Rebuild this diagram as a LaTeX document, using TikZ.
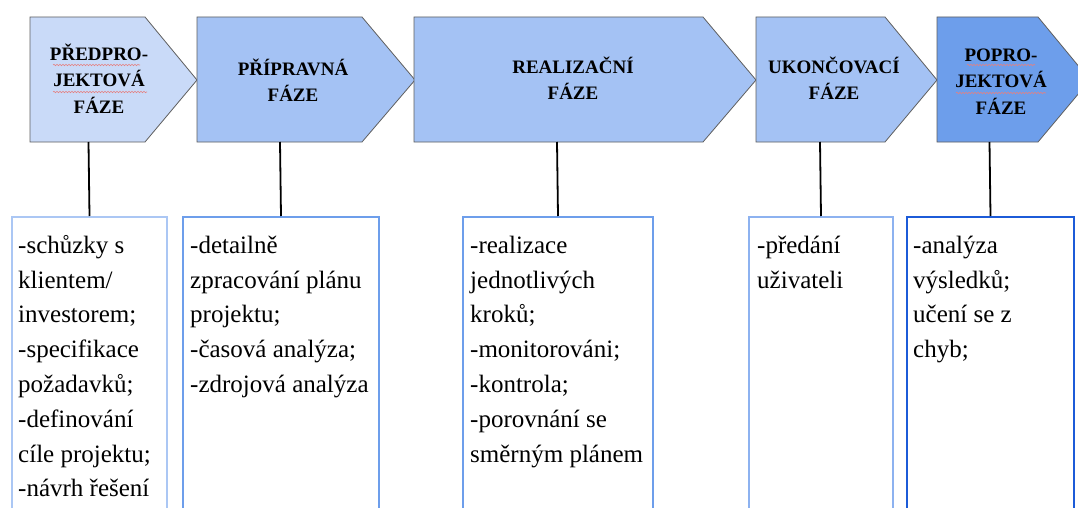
\documentclass[tikz,border=0pt]{standalone}
\usepackage{fontspec}
\setmainfont{Liberation Serif}
\usetikzlibrary{decorations.pathmorphing}

\definecolor{phaseLight}{HTML}{C9DAF8}
\definecolor{phaseMid}{HTML}{A4C2F4}
\definecolor{phaseDark}{HTML}{6D9EEB}
\definecolor{edgeGrey}{HTML}{5F5F5F}
\definecolor{frameA}{HTML}{ABC7F4}
\definecolor{frameB}{HTML}{6D9EEB}
\definecolor{frameC}{HTML}{8DB2F0}
\definecolor{frameD}{HTML}{1C5BD8}
\definecolor{squiggle}{HTML}{E58080}

\begin{document}
\begin{tikzpicture}[x=1pt, y=-1pt,
  phase/.style={draw=edgeGrey, line width=0.8pt, line join=miter},
  head/.style={font=\bfseries\fontsize{19}{26.5}\selectfont, align=center, inner sep=0pt, anchor=north},
  bodybox/.style={draw, line width=2pt, fill=white, anchor=north west, inner sep=0pt},
  bodytext/.style={font=\fontsize{25}{34.8}\selectfont, align=left, inner sep=0pt, anchor=north west},
  link/.style={draw=black, line width=1.8pt},
  spell/.style={draw=squiggle, line width=0.6pt, decorate,
    decoration={snake, segment length=3pt, amplitude=0.7pt}}]

\useasboundingbox (0,0) rectangle (1078,508);
\clip (0,0) rectangle (1078,508);
\fill[white] (0,0) rectangle (1078,508);

% phase arrows
\path[phase, fill=phaseLight] (30,17) -- (145,17) -- (197,80) -- (145,142) -- (30,142) -- cycle;
\path[phase, fill=phaseMid] (197,17) -- (362,17) -- (415,80) -- (362,142) -- (197,142) -- cycle;
\path[phase, fill=phaseMid] (414,17) -- (703,17) -- (756,80) -- (703,142) -- (414,142) -- cycle;
\path[phase, fill=phaseMid] (756,17) -- (885,17) -- (937,80) -- (885,142) -- (756,142) -- cycle;
\path[phase, fill=phaseDark] (937,17) -- (1038,17) -- (1090,80) -- (1038,142) -- (937,142) -- cycle;

% phase titles
\node[head] (h1) at (99,42) {\rule{0pt}{18pt}PŘEDPRO-\\JEKTOVÁ\\FÁZE};
\node[head] (h2) at (293,57) {\rule{0pt}{18pt}PŘÍPRAVNÁ\\FÁZE};
\node[head] (h3) at (573,55) {\rule{0pt}{18pt}REALIZAČNÍ\\FÁZE};
\node[head] (h4) at (834,55) {\rule{0pt}{18pt}UKONČOVACÍ\\FÁZE};
\node[head] (h5) at (1001,43) {\rule{0pt}{18pt}POPRO-\\JEKTOVÁ\\FÁZE};

% spelling squiggles
\draw[spell] (53,65) -- (140,65);
\draw[spell] (53,92) -- (147,92);
\draw[spell] (967,65) -- (1035,65);
\draw[spell] (956,93) -- (1046,93);

% lower edges of the arrows, where the connectors start
\coordinate (a1) at (88.5,142);
\coordinate (a2) at (280,142);
\coordinate (a3) at (557,142);
\coordinate (a4) at (820,142);
\coordinate (a5) at (989.5,142);

% activity boxes
\node[bodybox, draw=frameA, minimum width=155pt, minimum height=320pt] (b1) at (11,216) {};
\node[bodybox, draw=frameB, minimum width=196pt, minimum height=320pt] (b2) at (182,216) {};
\node[bodybox, draw=frameB, minimum width=190pt, minimum height=320pt] (b3) at (462,216) {};
\node[bodybox, draw=frameC, minimum width=144pt, minimum height=320pt] (b4) at (748,216) {};
\node[bodybox, draw=frameD, minimum width=167pt, minimum height=320pt] (b5) at (906,216) {};

% connectors
\draw[link] (a1) -- (b1.north);
\draw[link] (a2) -- (b2.north);
\draw[link] (a3) -- (b3.north);
\draw[link] (a4) -- (b4.north);
\draw[link] (a5) -- (b5.north);

% box contents
\node[bodytext] (t1) at (18,233) {\rule{0pt}{20pt}-schůzky s\\klientem/\\investorem;\\-specifikace\\požadavků;\\-definování\\cíle projektu;\\-návrh řešení};
\node[bodytext] (t2) at (190,233) {\rule{0pt}{20pt}-detailně\\zpracování plánu\\projektu;\\-časová analýza;\\-zdrojová analýza};
\node[bodytext] (t3) at (470,233) {\rule{0pt}{20pt}-realizace\\jednotlivých\\kroků;\\-monitorováni;\\-kontrola;\\-porovnání se\\směrným plánem};
\node[bodytext] (t4) at (757,233) {\rule{0pt}{20pt}-předání\\uživateli};
\node[bodytext] (t5) at (913,233) {\rule{0pt}{20pt}-analýza\\výsledků;\\učení se z\\chyb;};

\end{tikzpicture}
\end{document}
